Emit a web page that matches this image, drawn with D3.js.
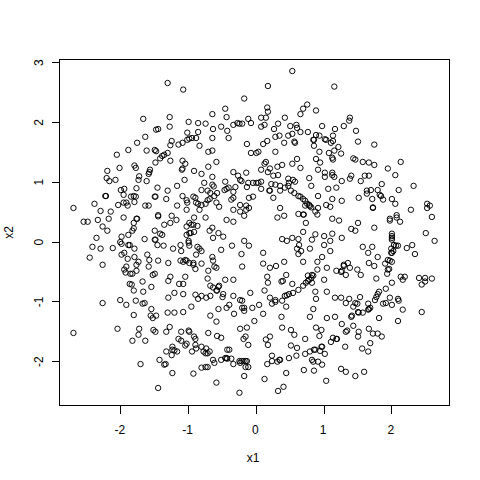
<!DOCTYPE html>
<html>
<head>
<meta charset="utf-8">
<script src="https://cdn.jsdelivr.net/npm/d3@7"></script>
<style>
html,body{margin:0;padding:0;background:#fff}
svg{display:block}
text{font-family:"Liberation Sans",Arial,sans-serif;font-size:12px;fill:#000}
</style>
</head>
<body>
<svg id="chart" width="480" height="480"></svg>
<script>
const xTicks = [-2,-1,0,1,2];
const yTicks = [-2,-1,0,1,2,3];
const xLabel = "x1";
const yLabel = "x2";

const upperLeft = [[-1.31,2.66],[-1.08,2.55],[-0.18,2.40],[-0.46,2.23],[-0.65,2.14],[-0.44,2.09],[-1.28,2.09],[-1.67,2.06],[-0.12,2.06],[-1.00,2.01],[-0.86,1.99],[-0.75,1.98],[-0.28,1.99],[-0.25,1.98],[-0.21,1.98],[-0.08,1.99],[-0.34,1.96],[-0.52,1.93],[-1.28,1.93],[-0.64,1.89],[-0.43,1.86],[-1.48,1.88],[-1.45,1.89],[-0.86,1.84],[-1.02,1.83],[-1.64,1.76],[-0.95,1.74],[-0.99,1.73],[-1.02,1.71],[-0.89,1.74],[-0.65,1.74],[-0.41,1.74],[-1.25,1.69],[-1.76,1.66],[-1.09,1.66],[-1.15,1.63],[-1.27,1.62],[-0.84,1.61],[-0.14,1.64],[-1.89,1.54],[-1.62,1.53],[-1.50,1.54],[-1.48,1.52],[-0.71,1.51],[-0.65,1.53],[-0.08,1.49],[-2.06,1.46],[-1.31,1.49],[-1.36,1.46],[-1.39,1.44],[-1.42,1.40],[-1.27,1.36],[-1.49,1.33],[-1.09,1.36],[-1.05,1.31],[-0.59,1.34],[-1.80,1.28],[-1.78,1.24],[-2.02,1.24],[-0.71,1.26],[-1.10,1.21],[-1.09,1.23],[-2.20,1.19],[-1.57,1.21],[-1.58,1.17],[-1.59,1.14],[-0.92,1.19],[-0.81,1.14],[-0.34,1.17],[-0.15,1.16],[-0.27,1.11],[-1.73,1.10],[-2.21,1.07],[-0.65,1.09],[-2.08,1.04],[-2.17,1.02],[-1.74,1.04],[-1.62,1.02],[-1.06,1.04],[-0.24,1.04],[-0.22,1.02],[-0.46,1.01],[-0.77,0.99],[-0.12,0.99],[-0.05,0.99],[-1.17,0.94],[-0.65,0.96],[-0.63,0.93],[-0.14,0.92],[-0.31,0.92],[-1.77,0.90],[-1.95,0.89],[-2.00,0.87],[-1.46,0.91],[-1.31,0.86],[-0.81,0.87],[-0.72,0.86],[-0.68,0.82],[-0.58,0.82],[-0.41,0.91],[-0.44,0.89],[-0.47,0.87],[-0.34,0.84],[-1.96,0.79],[-2.23,0.77],[-2.22,0.77],[-1.81,0.77],[-1.85,0.76],[-1.78,0.76],[-1.50,0.76],[-1.49,0.76],[-1.09,0.77],[-0.93,0.76],[-0.90,0.74],[-0.62,0.77],[-0.34,0.74],[-0.37,0.71],[-0.11,0.74],[-0.05,0.76],[-1.33,0.72],[-1.80,0.67],[-1.03,0.70],[-1.02,0.66],[-0.69,0.72],[-0.72,0.70],[-0.89,0.66],[-0.86,0.64],[-2.39,0.64],[-2.04,0.62],[-1.96,0.66],[-1.92,0.66],[-1.90,0.61],[-1.64,0.61],[-1.59,0.61],[-1.17,0.61],[-0.81,0.62],[-0.75,0.64],[-0.59,0.66],[-0.55,0.59],[-2.30,0.52],[-2.15,0.51],[-1.03,0.54],[-0.84,0.54],[-0.34,0.54],[-0.24,0.62],[-0.15,0.61],[-0.11,0.57],[-0.15,0.54],[-0.24,0.51],[-2.70,0.57],[-0.18,0.44],[-1.45,0.43],[-1.45,0.45],[-1.25,0.44],[-0.75,0.41],[-0.92,0.41],[-2.34,0.37],[-2.18,0.39],[-1.96,0.41],[-1.76,0.39],[-1.77,0.39],[-1.18,0.37],[-0.44,0.37],[-0.34,0.34],[-2.55,0.34],[-2.49,0.34],[-1.81,0.32],[-1.27,0.32],[-1.36,0.29],[-0.99,0.32],[-0.96,0.29],[-0.93,0.29],[-0.87,0.27],[-1.03,0.26],[-2.27,0.26],[-1.81,0.23],[-0.65,0.24]];

const upperRight = [[0.53,2.86],[0.17,2.61],[1.15,2.60],[0.16,2.25],[0.17,2.18],[0.75,2.30],[0.69,2.23],[0.65,2.14],[0.88,2.20],[0.07,2.08],[0.14,2.08],[0.42,2.08],[1.38,2.08],[1.37,2.03],[0.12,1.96],[0.07,1.93],[0.32,1.98],[0.26,1.89],[0.50,1.94],[0.59,1.96],[0.60,1.91],[0.65,1.84],[0.76,1.84],[0.97,1.94],[1.16,1.89],[1.29,1.94],[1.47,1.86],[0.34,1.78],[0.28,1.76],[0.47,1.78],[0.53,1.81],[0.88,1.79],[0.93,1.78],[0.85,1.71],[0.84,1.71],[1.13,1.78],[1.01,1.72],[1.03,1.71],[1.10,1.66],[1.13,1.69],[1.50,1.68],[1.74,1.63],[0.16,1.69],[0.10,1.64],[0.41,1.66],[0.56,1.68],[0.57,1.66],[0.85,1.61],[1.21,1.59],[0.28,1.51],[1.15,1.53],[1.07,1.49],[0.93,1.51],[1.25,1.48],[0.03,1.51],[0.00,1.49],[0.60,1.39],[0.88,1.39],[0.94,1.33],[1.12,1.41],[1.13,1.38],[1.43,1.40],[1.46,1.38],[1.57,1.34],[1.66,1.33],[1.74,1.29],[2.13,1.34],[0.14,1.34],[0.12,1.31],[0.38,1.29],[0.53,1.31],[0.31,1.26],[0.65,1.24],[1.94,1.23],[0.07,1.21],[0.20,1.23],[0.17,1.17],[0.91,1.21],[0.25,1.11],[0.32,1.12],[1.01,1.16],[1.12,1.16],[1.12,1.12],[1.01,1.09],[1.15,1.09],[1.40,1.11],[1.38,1.06],[1.60,1.11],[1.66,1.11],[2.05,1.12],[0.78,1.07],[0.47,1.06],[0.54,1.04],[0.57,1.01],[1.26,1.02],[1.54,1.02],[1.85,0.97],[2.32,0.94],[0.03,0.99],[0.07,1.01],[0.00,0.99],[0.22,0.97],[0.28,0.96],[0.35,0.94],[0.48,0.99],[0.47,0.94],[0.81,0.94],[0.42,0.91],[0.07,0.89],[0.19,0.86],[0.20,0.86],[0.35,0.86],[0.51,0.86],[1.06,0.89],[1.18,0.91],[1.63,0.86],[1.69,0.87],[1.79,0.87],[2.10,0.87],[0.56,0.82],[0.62,0.77],[0.65,0.76],[1.63,0.81],[1.82,0.79],[1.84,0.77],[0.25,0.74],[0.91,0.77],[0.69,0.72],[0.72,0.69],[1.12,0.72],[1.26,0.69],[1.51,0.74],[1.71,0.72],[1.87,0.71],[2.00,0.72],[2.05,0.64],[0.75,0.64],[0.78,0.62],[0.79,0.60],[0.81,0.58],[1.03,0.62],[1.09,0.59],[0.72,0.61],[0.91,0.57],[0.35,0.57],[2.52,0.64],[2.56,0.61],[2.52,0.57],[1.72,0.57],[1.72,0.58],[2.28,0.54],[0.87,0.51],[0.62,0.47],[0.69,0.46],[0.70,0.46],[0.90,0.46],[0.41,0.44],[0.31,0.41],[2.59,0.42],[1.12,0.39],[1.22,0.36],[2.07,0.45],[2.07,0.41],[1.97,0.39],[1.97,0.36],[2.12,0.34],[0.73,0.32],[1.50,0.32],[1.40,0.22],[1.74,0.24]];

const lowerLeft = [[-2.20,0.19],[-1.83,0.19],[-1.50,0.19],[-1.89,0.12],[-1.99,0.09],[-2.36,0.07],[-1.65,0.05],[-1.42,0.14],[-1.39,0.12],[-1.03,0.12],[-0.99,0.15],[-0.97,0.15],[-0.92,0.17],[-0.69,0.19],[-0.56,0.15],[-0.49,0.09],[-0.64,0.07],[-0.18,0.02],[-0.11,-0.06],[-2.01,0.00],[-1.99,-0.03],[-1.89,-0.05],[-1.87,-0.05],[-1.50,0.04],[-1.49,0.04],[-1.46,-0.05],[-1.37,-0.06],[-1.00,0.02],[-1.00,-0.01],[-1.12,-0.05],[-0.99,-0.06],[-0.87,-0.08],[-0.84,-0.11],[-0.81,-0.15],[-2.42,-0.08],[-2.30,-0.11],[-2.12,-0.10],[-1.80,-0.11],[-1.23,-0.11],[-1.11,-0.15],[-0.52,-0.13],[-0.36,-0.06],[-0.22,-0.20],[-1.95,-0.18],[-1.99,-0.21],[-1.61,-0.21],[-1.80,-0.25],[-0.89,-0.21],[-0.65,-0.25],[-2.46,-0.26],[-1.90,-0.28],[-1.58,-0.30],[-1.45,-0.31],[-1.74,-0.33],[-1.30,-0.35],[-1.12,-0.31],[-1.05,-0.30],[-1.03,-0.31],[-1.08,-0.33],[-0.99,-0.35],[-0.93,-0.35],[-0.93,-0.38],[-0.81,-0.36],[-0.64,-0.31],[-1.77,-0.38],[-2.27,-0.38],[-1.59,-0.41],[-0.90,-0.45],[-1.92,-0.41],[-0.62,-0.41],[-0.59,-0.43],[-0.21,-0.41],[-1.95,-0.46],[-0.71,-0.48],[-1.77,-0.48],[-1.93,-0.51],[-1.86,-0.53],[-1.83,-0.53],[-1.53,-0.55],[-1.50,-0.53],[-1.27,-0.58],[-1.05,-0.58],[-1.30,-0.65],[-0.72,-0.61],[-0.46,-0.63],[-0.34,-0.63],[-1.68,-0.66],[-1.87,-0.70],[-1.84,-0.71],[-1.14,-0.70],[-1.08,-0.70],[-1.55,-0.75],[-0.68,-0.73],[-0.55,-0.73],[-0.56,-0.75],[-0.64,-0.76],[-0.59,-0.81],[-0.58,-0.81],[-1.81,-0.81],[-1.67,-0.83],[-1.21,-0.85],[-1.08,-0.87],[-0.09,-0.85],[-0.90,-0.88],[-0.81,-0.90],[-0.68,-0.90],[-0.49,-0.87],[-0.50,-0.92],[-0.34,-0.90],[-1.30,-0.93],[-0.86,-0.95],[-0.74,-0.93],[-2.01,-0.97],[-1.78,-0.98],[-0.24,-0.97],[-0.21,-0.98],[-2.27,-1.02],[-1.92,-1.05],[-1.68,-1.03],[-1.65,-1.02],[-0.40,-1.05],[-0.96,-1.08],[-0.44,-1.10],[-0.56,-1.12],[-1.55,-1.12],[-0.21,-1.10],[-0.18,-1.10],[-0.18,-1.15],[-0.06,-1.10],[-1.31,-1.18],[-1.21,-1.18],[-1.08,-1.17],[-1.81,-1.22],[-0.33,-1.20],[-1.56,-1.23],[-1.53,-1.27],[-1.48,-1.23],[-0.68,-1.23],[-0.59,-1.33],[-0.03,-1.32],[-2.05,-1.45],[-1.73,-1.45],[-1.52,-1.47],[-1.49,-1.50],[-1.28,-1.42],[-1.33,-1.50],[-1.11,-1.50],[-1.00,-1.48],[-0.99,-1.50],[-0.71,-1.52],[-0.24,-1.45],[-0.14,-1.43],[-2.70,-1.52],[-1.74,-1.55],[-0.58,-1.57],[-0.52,-1.60],[-0.92,-1.58],[-0.90,-1.62],[-1.15,-1.62],[-0.16,-1.58],[-0.19,-1.62],[-1.83,-1.65],[-1.64,-1.65],[-1.11,-1.65],[-1.03,-1.70],[-1.05,-1.73],[-0.12,-1.72],[-0.90,-1.72],[-1.24,-1.75],[-0.81,-1.75],[-0.74,-1.78],[-0.89,-1.78],[-1.24,-1.80],[-1.21,-1.81],[-1.17,-1.83],[-1.33,-1.83],[-0.95,-1.83],[-0.78,-1.83],[-0.75,-1.86],[-0.72,-1.86],[-0.69,-1.83],[-0.43,-1.80],[-0.40,-1.80],[-1.25,-1.89],[-0.64,-1.97],[-0.46,-1.94],[-0.44,-1.94],[-0.52,-1.97],[-0.43,-1.95],[-0.37,-1.95],[-0.25,-1.99],[-0.22,-1.99],[-0.19,-1.99],[-0.16,-1.99],[-0.14,-1.99],[-1.43,-1.97],[-0.62,-2.02],[-0.34,-2.04],[-0.24,-2.02],[-1.71,-2.04],[-1.36,-2.05],[-1.34,-2.04],[-0.16,-2.09],[-0.12,-2.09],[-0.81,-2.10],[-0.75,-2.09],[-0.72,-2.09],[-1.24,-2.19],[-0.93,-2.20],[-0.18,-2.24],[-0.59,-2.35],[-1.45,-2.44],[-0.25,-2.52]];

const lowerRight = [[0.69,0.17],[0.87,0.13],[1.00,0.10],[1.12,0.14],[1.26,0.07],[1.46,0.19],[2.00,0.14],[2.00,0.10],[2.00,0.07],[2.00,0.04],[2.50,0.15],[0.38,0.05],[0.45,0.02],[0.53,0.07],[0.62,0.05],[0.82,0.04],[1.09,0.02],[2.63,0.02],[0.63,-0.05],[1.00,-0.05],[1.57,-0.08],[1.71,-0.08],[2.03,-0.05],[2.06,-0.06],[2.09,-0.06],[2.30,-0.05],[2.22,-0.10],[0.60,-0.11],[0.66,-0.15],[0.79,-0.11],[1.09,-0.15],[1.65,-0.18],[1.99,-0.11],[2.02,-0.15],[1.99,-0.18],[2.00,-0.18],[2.34,-0.20],[0.10,-0.18],[0.62,-0.20],[0.97,-0.25],[1.79,-0.25],[1.94,-0.30],[1.97,-0.31],[2.00,-0.33],[0.69,-0.33],[0.41,-0.33],[0.90,-0.33],[0.10,-0.36],[0.29,-0.40],[0.20,-0.43],[1.66,-0.35],[1.90,-0.36],[1.74,-0.40],[1.35,-0.35],[1.29,-0.38],[1.29,-0.40],[1.38,-0.43],[1.04,-0.43],[0.90,-0.46],[1.18,-0.48],[1.25,-0.50],[1.26,-0.48],[1.49,-0.46],[1.96,-0.45],[1.94,-0.46],[1.93,-0.53],[1.54,-0.55],[0.44,-0.55],[1.32,-0.55],[0.76,-0.56],[0.82,-0.55],[0.84,-0.56],[0.81,-0.60],[0.78,-0.63],[0.76,-0.65],[0.16,-0.58],[2.13,-0.58],[2.19,-0.58],[2.16,-0.63],[2.40,-0.60],[2.49,-0.60],[2.59,-0.61],[1.77,-0.61],[1.00,-0.63],[0.37,-0.66],[0.39,-0.65],[0.17,-0.68],[0.53,-0.70],[0.82,-0.68],[0.73,-0.68],[0.69,-0.73],[2.00,-0.68],[2.49,-0.66],[2.44,-0.71],[0.62,-0.80],[0.12,-0.81],[0.54,-0.85],[0.87,-0.83],[1.04,-0.83],[1.91,-0.78],[1.81,-0.83],[1.79,-0.87],[0.48,-0.87],[0.45,-0.89],[0.42,-0.90],[1.77,-0.92],[1.75,-0.97],[0.20,-0.93],[1.16,-0.93],[1.25,-0.93],[1.53,-0.92],[1.97,-0.93],[2.09,-0.95],[2.10,-0.98],[0.88,-0.95],[1.37,-0.95],[0.28,-0.97],[0.28,-1.00],[0.23,-1.03],[0.38,-0.98],[0.04,-1.05],[0.44,-1.08],[1.32,-1.02],[1.46,-1.02],[1.49,-1.03],[1.65,-1.03],[1.87,-1.03],[1.91,-1.02],[2.00,-1.05],[1.43,-1.08],[1.68,-1.10],[1.66,-1.12],[1.65,-1.13],[0.84,-1.12],[2.16,-1.13],[0.10,-1.20],[1.50,-1.17],[1.51,-1.18],[1.57,-1.18],[2.44,-1.17],[0.37,-1.25],[0.79,-1.25],[1.04,-1.27],[1.16,-1.25],[1.81,-1.27],[1.40,-1.25],[1.41,-1.23],[2.09,-1.32],[1.26,-1.37],[1.43,-1.40],[0.38,-1.43],[0.51,-1.47],[0.88,-1.43],[0.96,-1.47],[1.66,-1.45],[0.56,-1.55],[0.93,-1.57],[1.51,-1.50],[1.50,-1.58],[1.32,-1.50],[1.34,-1.48],[1.72,-1.53],[1.79,-1.53],[1.85,-1.58],[0.20,-1.58],[0.14,-1.63],[0.72,-1.62],[1.13,-1.60],[1.10,-1.67],[1.18,-1.62],[1.19,-1.62],[0.17,-1.72],[1.68,-1.69],[0.51,-1.73],[0.60,-1.77],[0.96,-1.75],[0.97,-1.75],[1.31,-1.75],[1.56,-1.78],[1.65,-1.83],[0.85,-1.80],[0.87,-1.80],[0.79,-1.83],[0.72,-1.87],[0.94,-1.82],[1.01,-1.87],[0.23,-1.90],[0.48,-1.94],[0.59,-1.90],[0.23,-1.99],[0.16,-2.04],[0.31,-2.00],[0.34,-1.97],[0.35,-1.97],[0.82,-1.97],[0.84,-2.00],[0.91,-2.00],[0.97,-2.05],[0.70,-2.14],[0.85,-2.15],[1.25,-2.12],[1.32,-2.17],[1.46,-2.24],[1.59,-2.17],[0.44,-2.19],[0.12,-2.29],[1.03,-2.32],[0.40,-2.42],[0.32,-2.49]];

const points = [...upperLeft, ...upperRight, ...lowerLeft, ...lowerRight];

const box = {left:59.5, right:449.5, top:59.5, bottom:405.5};
const x = d3.scaleLinear().domain([-2.906,2.850]).range([box.left,box.right]);
const y = d3.scaleLinear().domain([-2.733,3.053]).range([box.bottom,box.top]);

const svg = d3.select("#chart");
svg.append("rect").attr("width",480).attr("height",480).attr("fill","#fff");

const xAxis = svg.append("g").attr("transform",`translate(0,${box.bottom})`)
  .call(d3.axisBottom(x).tickValues(xTicks).tickSize(8).tickPadding(10).tickFormat(d3.format("d")).offset(0));
const yAxis = svg.append("g").attr("transform",`translate(${box.left},0)`)
  .call(d3.axisLeft(y).tickValues(yTicks).tickSize(8).tickFormat(d3.format("d")).offset(0));
for (const ax of [xAxis,yAxis]) {
  ax.select(".domain").remove();
  ax.selectAll("line").attr("stroke","#000").attr("stroke-width",1).attr("shape-rendering","crispEdges");
  ax.attr("font-size",null).attr("font-family",null);
  ax.selectAll("text").attr("fill","#000").style("font-size","12px").text(d=>String(d).replace("\u2212","-"));
}
xAxis.selectAll("text").attr("y",0).attr("dy",null).attr("text-anchor","middle")
  .attr("dominant-baseline","auto").attr("transform","translate(-1,28)");
yAxis.selectAll("text").attr("x",0).attr("dy",null).attr("text-anchor","middle")
  .attr("transform","translate(-17,0) rotate(-90)");

svg.append("rect").attr("x",box.left).attr("y",box.top)
  .attr("width",box.right-box.left).attr("height",box.bottom-box.top)
  .attr("fill","none").attr("stroke","#000").attr("stroke-width",1).attr("shape-rendering","crispEdges");

svg.append("g").selectAll("circle").data(points).join("circle")
  .attr("cx",d=>x(d[0])).attr("cy",d=>y(d[1])).attr("r",2.7)
  .attr("fill","none").attr("stroke","#000").attr("stroke-width",0.95);

svg.append("text").attr("x",253).attr("y",462).attr("text-anchor","middle").text(xLabel);
svg.append("text").attr("transform","translate(13,232.5) rotate(-90)").attr("text-anchor","middle").text(yLabel);
</script>
</body>
</html>
